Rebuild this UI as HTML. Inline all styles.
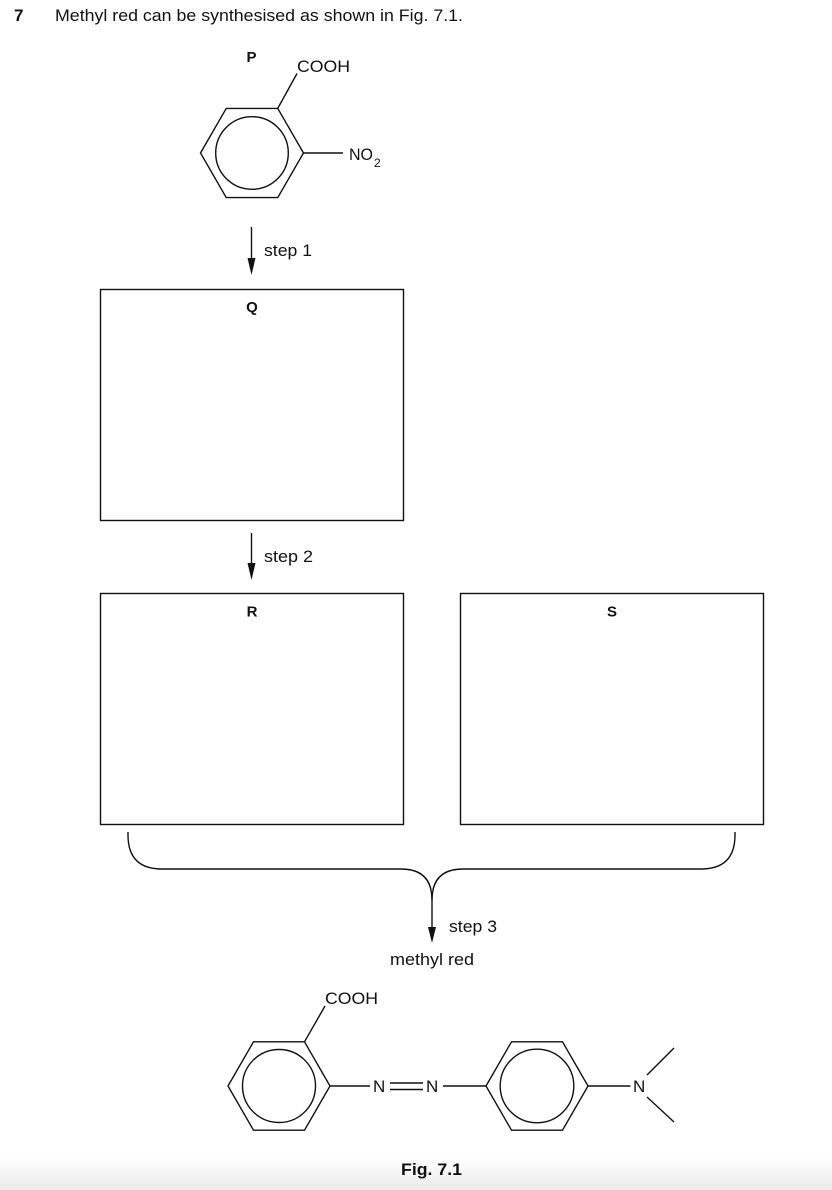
<!DOCTYPE html>
<html>
<head>
<meta charset="utf-8">
<style>
html,body{margin:0;padding:0;background:#fff;}
body{width:832px;height:1190px;overflow:hidden;position:relative;}
svg{position:absolute;left:0;top:0;}
text{font-family:"Liberation Sans",Arial,sans-serif;fill:#111;}
.b{font-weight:bold;}
</style>
</head>
<body>
<svg width="832" height="1190" viewBox="0 0 832 1190" xmlns="http://www.w3.org/2000/svg">
<defs>
<linearGradient id="bg" x1="0" y1="0" x2="0" y2="1">
<stop offset="0" stop-color="#ffffff"/>
<stop offset="1" stop-color="#ebebeb"/>
</linearGradient>
</defs>
<rect x="0" y="1158" width="832" height="32" fill="url(#bg)"/>

<!-- title -->
<text x="14" y="21" font-size="17" class="b">7</text>
<text x="55" y="21" font-size="17" textLength="408" lengthAdjust="spacingAndGlyphs">Methyl red can be synthesised as shown in Fig. 7.1.</text>

<g stroke="#111" stroke-width="1.4" fill="none">
<!-- P ring -->
<polygon points="200.5,153 226.25,108.4 277.75,108.4 303.5,153 277.75,197.6 226.25,197.6"/>
<circle cx="252" cy="153" r="36.3"/>
<line x1="277.75" y1="108.4" x2="297" y2="73.5"/>
<line x1="303.5" y1="153" x2="343" y2="153"/>

<!-- step 1 arrow -->
<line x1="251.5" y1="227" x2="251.5" y2="262"/>
<!-- step 2 arrow -->
<line x1="251.5" y1="533" x2="251.5" y2="566"/>

<!-- boxes -->
<rect x="100.5" y="289.5" width="303" height="231" stroke-width="1.4"/>
<rect x="100.5" y="593.5" width="303" height="231" stroke-width="1.4"/>
<rect x="460.5" y="593.5" width="303" height="231" stroke-width="1.4"/>

<!-- brace -->
<path d="M128 832 L128 835 Q128 869 162 869 L401 869 Q432 869 432 900 L432 930"/>
<path d="M735 832 L735 835 Q735 869 701 869 L463 869 Q432 869 432 900"/>

<!-- methyl red structure -->
<polygon points="228,1086 253.5,1041.8 304.5,1041.8 330,1086 304.5,1130.2 253.5,1130.2"/>
<circle cx="279" cy="1086" r="36.5"/>
<line x1="304.5" y1="1041.8" x2="325" y2="1006"/>
<line x1="330" y1="1086" x2="370" y2="1086"/>
<line x1="390" y1="1083" x2="423" y2="1083"/>
<line x1="390" y1="1089.5" x2="423" y2="1089.5"/>
<line x1="443" y1="1086" x2="486" y2="1086"/>
<polygon points="486,1086 511.5,1041.8 562.5,1041.8 588,1086 562.5,1130.2 511.5,1130.2"/>
<circle cx="537" cy="1086" r="36.8"/>
<line x1="588" y1="1086" x2="630.5" y2="1086"/>
<line x1="647" y1="1075" x2="674" y2="1048"/>
<line x1="647" y1="1097" x2="674" y2="1122"/>
</g>

<!-- arrowheads -->
<polygon points="247.5,258 255.5,258 251.5,275" fill="#111"/>
<polygon points="247.5,563 255.5,563 251.5,580" fill="#111"/>
<polygon points="428,927 436,927 432,943" fill="#111"/>

<!-- P labels -->
<text x="246.5" y="62" font-size="15" class="b">P</text>
<text x="297" y="72" font-size="17" textLength="53" lengthAdjust="spacingAndGlyphs">COOH</text>
<text x="349" y="160" font-size="17" textLength="24" lengthAdjust="spacingAndGlyphs">NO</text>
<text x="374" y="167" font-size="12">2</text>

<!-- step labels -->
<text x="264" y="256" font-size="17" textLength="48" lengthAdjust="spacingAndGlyphs">step 1</text>
<text x="264" y="562" font-size="17" textLength="49" lengthAdjust="spacingAndGlyphs">step 2</text>
<text x="449" y="932" font-size="17" textLength="48" lengthAdjust="spacingAndGlyphs">step 3</text>
<text x="390" y="965" font-size="17" textLength="84" lengthAdjust="spacingAndGlyphs">methyl red</text>

<!-- box labels -->
<text x="252" y="312" font-size="15" class="b" text-anchor="middle">Q</text>
<text x="252" y="616.5" font-size="15" class="b" text-anchor="middle">R</text>
<text x="612" y="616.5" font-size="15" class="b" text-anchor="middle">S</text>

<!-- methyl red labels -->
<text x="325" y="1004" font-size="17" textLength="53" lengthAdjust="spacingAndGlyphs">COOH</text>
<text x="373" y="1092" font-size="17">N</text>
<text x="426" y="1092" font-size="17">N</text>
<text x="633" y="1092" font-size="17">N</text>

<text x="401" y="1175" font-size="17" class="b" textLength="61" lengthAdjust="spacingAndGlyphs">Fig. 7.1</text>
</svg>
</body>
</html>
